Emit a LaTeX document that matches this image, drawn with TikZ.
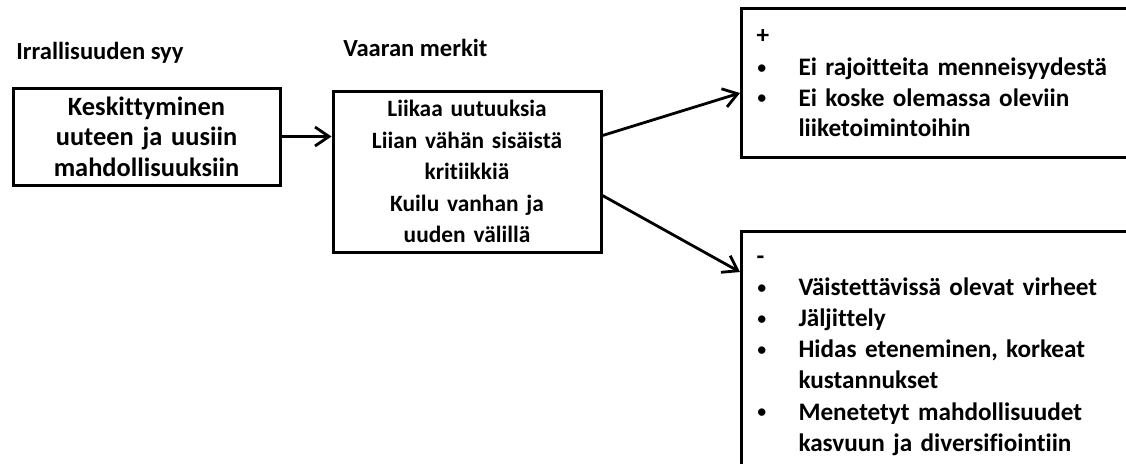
\documentclass[tikz,border=0pt]{standalone}
\usepackage{fontspec}
\setmainfont[Ligatures={NoCommon,NoContextual,NoRare}]{Carlito}
\usepackage{tikz}
\usetikzlibrary{arrows.meta,positioning,calc}

\newcommand{\bitem}[1]{\makebox[21pt][l]{{\mdseries\fontsize{10.5pt}{10pt}\selectfont\raisebox{0.6pt}{•}}}#1}
\newcommand{\bcont}[1]{\hspace*{21pt}#1}

\begin{document}
\begin{tikzpicture}[
    x=0.5pt, y=-0.5pt,
    title/.style={font=\bfseries\fontsize{12.3pt}{15pt}\selectfont, inner sep=0pt},
    boxnode/.style={draw=black, line width=1.5pt, fill=white, align=center, inner sep=0pt},
    listnode/.style={draw=black, line width=1.5pt, fill=white, font=\bfseries\fontsize{12.6pt}{15.6pt}\selectfont, align=left, text width=205pt, inner xsep=7.5pt, anchor=north west},
    arr/.style={-{Straight Barb[length=7pt,width=9.5pt]}, line width=1.4pt}
  ]
    \clip (0,0) rectangle (1126,463);
    \useasboundingbox (0,0) rectangle (1126,463);

    \node[title, anchor=west] (tcause) at (16,53) {Irrallisuuden syy};
    \node[title, anchor=west] (tsigns) at (343,48) {Vaaran merkit};

    \node[boxnode, font=\bfseries\fontsize{13.2pt}{15.25pt}\selectfont, minimum width=133.5pt, minimum height=48.5pt, text width=128pt] (cause) at (146.5,136.5) {Keskittyminen\\uuteen ja uusiin\\mahdollisuuksiin};
    \node[boxnode, font=\bfseries\fontsize{11.7pt}{15.8pt}\selectfont, minimum width=134pt, minimum height=80.5pt, text width=130pt] (signs) at (467,171.5) {Liikaa uutuuksia\\Liian vähän sisäistä\\kritiikkiä\\Kuilu vanhan ja\\uuden välillä};

    \node[listnode, inner ysep=0pt, minimum height=74.5pt, font=\bfseries\fontsize{12.6pt}{15.2pt}\selectfont] (plus) at (740,7) {+\\[1pt]\bitem{Ei rajoitteita menneisyydestä}\\\bitem{Ei koske olemassa oleviin}\\\bcont{liiketoimintoihin}};
    \node[listnode, inner ysep=12pt] (minus) at (740,230) {-\\\bitem{Väistettävissä olevat virheet}\\\bitem{Jäljittely}\\\bitem{Hidas eteneminen, korkeat}\\\bcont{kustannukset}\\\bitem{Menetetyt mahdollisuudet}\\\bcont{kasvuun ja diversifiointiin}};

    \draw[arr] (cause.east) -- (cause.east -| signs.west);
    \draw[arr] ([yshift=18pt]signs.east) -- ([yshift=-5pt]plus.west);
    \draw[arr] ([yshift=-12pt]signs.east) -- ([yshift=-21pt]minus.north west);
  \end{tikzpicture}
\end{document}
